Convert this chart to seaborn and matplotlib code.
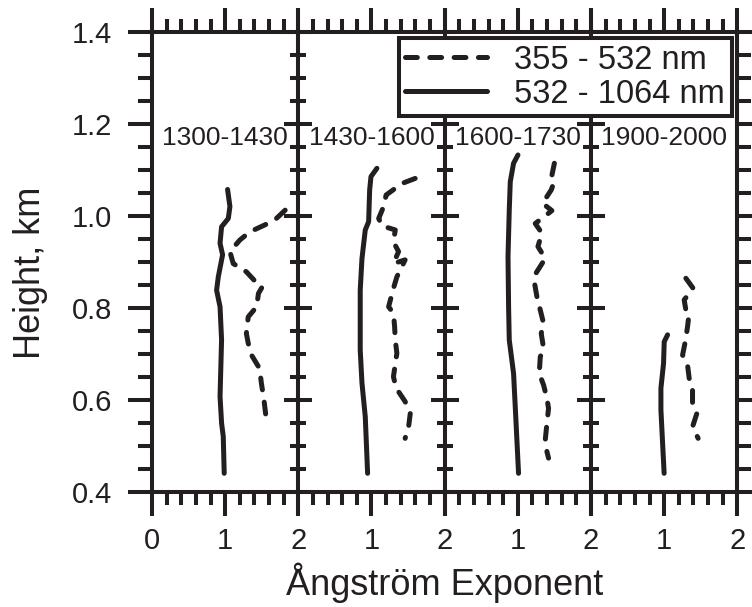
import numpy as np
import pandas as pd
import matplotlib
matplotlib.use("Agg")
import matplotlib.pyplot as plt
import seaborn as sns
from matplotlib.ticker import MultipleLocator, FixedLocator, FixedFormatter

# ---------------- data ----------------
panel_labels = ["1300-1430", "1430-1600", "1600-1730", "1900-2000"]
legend_labels = ["355 - 532 nm", "532 - 1064 nm"]
x_title = "Ångström Exponent"
y_title = "Height, km"
y_tick_values = [0.4, 0.6, 0.8, 1.0, 1.2, 1.4]
y_tick_labels = ["0.4", "0.6", "0.8", "1.0", "1.2", "1.4"]
x_tick_values = [0, 1, 2]
x_tick_labels_first = ["0", "1", "2"]
x_tick_labels_other = ["", "1", "2"]

# panel 1 (1300-1430)
p1_solid_x = [1.033, 1.065, 1.043, 0.951, 0.93, 0.965, 0.906, 0.883, 0.93, 0.951, 0.93, 0.951, 0.974, 0.987]
p1_solid_y = [1.057, 1.020, 0.994, 0.976, 0.94, 0.915, 0.867, 0.838, 0.802, 0.730, 0.607, 0.549, 0.520, 0.440]
p1_dash_x = [1.82, 1.70, 1.543, 1.338, 1.20, 1.065, 1.11, 1.29, 1.43, 1.51, 1.455, 1.43, 1.315, 1.29,
             1.315, 1.36, 1.47, 1.495, 1.53, 1.56]
p1_dash_y = [1.012, 0.994, 0.98, 0.965, 0.947, 0.922, 0.896, 0.878, 0.854, 0.846, 0.831, 0.802, 0.780,
             0.744, 0.723, 0.697, 0.668, 0.636, 0.60, 0.560]

# panel 2 (1430-1600)
p2_solid_x = [1.074, 0.993, 0.975, 0.961, 0.915, 0.87, 0.846, 0.846, 0.87, 0.915, 0.947]
p2_solid_y = [1.103, 1.085, 1.056, 0.987, 0.969, 0.907, 0.838, 0.708, 0.636, 0.563, 0.440]
p2_dash_x = [1.597, 1.416, 1.20, 1.166, 1.098, 1.143, 1.325, 1.30, 1.37, 1.30, 1.46, 1.347, 1.30,
             1.234, 1.30, 1.316, 1.325, 1.347, 1.30, 1.338, 1.46, 1.53, 1.507, 1.46]
p2_dash_y = [1.081, 1.070, 1.045, 1.020, 0.994, 0.978, 0.969, 0.943, 0.922, 0.896, 0.904, 0.867, 0.842,
             0.802, 0.788, 0.759, 0.730, 0.701, 0.650, 0.625, 0.596, 0.570, 0.541, 0.516]

# panel 3 (1600-1730)
p3_solid_x = [1.002, 0.942, 0.897, 0.883, 0.866, 0.874, 0.883, 0.942, 0.965, 1.01]
p3_solid_y = [1.132, 1.114, 1.074, 1.012, 0.911, 0.802, 0.730, 0.657, 0.585, 0.440]
p3_dash_x = [1.50, 1.457, 1.488, 1.457, 1.338, 1.466, 1.238, 1.33, 1.275, 1.375, 1.248, 1.229, 1.261,
             1.307, 1.352, 1.32, 1.352, 1.307, 1.293, 1.352, 1.398, 1.42, 1.398, 1.375, 1.398, 1.42]
p3_dash_y = [1.114, 1.081, 1.070, 1.056, 1.027, 1.011, 0.983, 0.962, 0.933, 0.907, 0.875, 0.853, 0.824,
             0.795, 0.766, 0.744, 0.712, 0.693, 0.657, 0.632, 0.603, 0.581, 0.549, 0.512, 0.487, 0.473]

# panel 4 (1900-2000)
p4_solid_x = [1.047, 1.001, 0.992, 0.956, 0.956, 0.979, 1.0]
p4_solid_y = [0.741, 0.726, 0.679, 0.625, 0.578, 0.505, 0.440]
p4_dash_x = [1.297, 1.397, 1.274, 1.297, 1.342, 1.32, 1.297, 1.252, 1.32, 1.342, 1.388, 1.388, 1.447,
             1.388, 1.465]
p4_dash_y = [0.864, 0.842, 0.817, 0.795, 0.788, 0.759, 0.733, 0.697, 0.675, 0.647, 0.621, 0.592, 0.570,
             0.541, 0.516]

solid_x = [p1_solid_x, p2_solid_x, p3_solid_x, p4_solid_x]
solid_y = [p1_solid_y, p2_solid_y, p3_solid_y, p4_solid_y]
dash_x = [p1_dash_x, p2_dash_x, p3_dash_x, p4_dash_x]
dash_y = [p1_dash_y, p2_dash_y, p3_dash_y, p4_dash_y]

# ---------------- style ----------------
sns.set_theme(style="white")
plt.rcParams["font.family"] = ["Liberation Sans", "DejaVu Sans"]
plt.rcParams["lines.scale_dashes"] = False
INK = "#231f20"
SPW = 2.9
LW = 3.6
PT = 72 / 100.0  # points per pixel at dpi 100

fig, axes = plt.subplots(1, 4, figsize=(7.52, 6.07), dpi=100, sharey=True)
fig.subplots_adjust(left=152 / 752, right=737.3 / 752, bottom=1 - 491.7 / 607,
                    top=1 - 31.7 / 607, wspace=0)

dash_pattern = (0, (8.5, 9.0))

for i, ax in enumerate(axes):
    ax.set_facecolor("white")
    dfs = pd.DataFrame({"x": solid_x[i], "y": solid_y[i]})
    dfd = pd.DataFrame({"x": dash_x[i], "y": dash_y[i]})
    sns.lineplot(data=dfd, x="x", y="y", ax=ax, sort=False, estimator=None, color=INK,
                 linewidth=LW, linestyle=dash_pattern, dash_capstyle="round",
                 dash_joinstyle="round", solid_capstyle="round",
                 label=legend_labels[0] if i == 3 else None)
    sns.lineplot(data=dfs, x="x", y="y", ax=ax, sort=False, estimator=None, color=INK,
                 linewidth=LW, solid_capstyle="round", solid_joinstyle="round",
                 label=legend_labels[1] if i == 3 else None)
    ax.set_xlim(0, 2)
    ax.set_ylim(0.4, 1.4)
    ax.set_xlabel("")
    ax.set_ylabel("")
    for s in ax.spines.values():
        s.set_visible(True)
        s.set_color(INK)
        s.set_linewidth(SPW)

    ax.xaxis.set_major_locator(FixedLocator(x_tick_values))
    ax.xaxis.set_major_formatter(FixedFormatter(x_tick_labels_first if i == 0 else x_tick_labels_other))
    ax.xaxis.set_minor_locator(MultipleLocator(0.2))
    ax.yaxis.set_major_locator(FixedLocator(y_tick_values))
    ax.yaxis.set_major_formatter(FixedFormatter(y_tick_labels))
    ax.yaxis.set_minor_locator(MultipleLocator(0.05))

    ax.tick_params(axis="x", which="major", direction="out", length=24 * PT, width=SPW,
                   color=INK, top=True, bottom=True, labelsize=21, pad=8, labelcolor=INK)
    ax.tick_params(axis="x", which="minor", direction="out", length=13 * PT, width=SPW,
                   color=INK, top=True, bottom=True)
    if i == 0:
        ax.tick_params(axis="y", which="major", direction="out", length=24 * PT, width=SPW,
                       color=INK, left=True, right=False, labelsize=21, pad=11.5, labelcolor=INK)
        ax.tick_params(axis="y", which="minor", direction="out", length=14 * PT, width=SPW,
                       color=INK, left=True, right=False)
    else:
        ax.tick_params(axis="y", which="major", direction="inout", length=28 * PT, width=SPW,
                       color=INK, left=True, right=False, labelleft=False)
        ax.tick_params(axis="y", which="minor", direction="inout", length=16 * PT, width=SPW,
                       color=INK, left=True, right=False)

    ax.text(1.0, 1.17, panel_labels[i], ha="center", va="center", fontsize=19, color=INK)

# outward ticks on the right-most spine
sec = axes[3].secondary_yaxis("right")
sec.yaxis.set_major_locator(FixedLocator(y_tick_values))
sec.yaxis.set_minor_locator(MultipleLocator(0.05))
sec.tick_params(axis="y", which="major", direction="out", length=24 * PT, width=SPW,
                color=INK, labelright=False)
sec.tick_params(axis="y", which="minor", direction="out", length=14 * PT, width=SPW, color=INK)
sec.spines["right"].set_linewidth(SPW)
sec.spines["right"].set_color(INK)

handles, labels = axes[3].get_legend_handles_labels()
for ax in axes[:3]:
    lg = ax.get_legend()
    if lg is not None:
        lg.remove()
leg = axes[3].legend(handles, labels, loc="upper right",
                     bbox_to_anchor=(731.7 / 752, 1 - 38 / 607), bbox_transform=fig.transFigure,
                     fontsize=23.5, frameon=True, fancybox=False, framealpha=1, edgecolor=INK,
                     handlelength=2.5, handletextpad=0.85, labelspacing=0.1, borderpad=0.2,
                     borderaxespad=0)
leg.get_frame().set_linewidth(SPW)
for t in leg.get_texts():
    t.set_color(INK)

fig.text(444.6 / 752, 1 - 595 / 607, x_title, ha="center", va="baseline", fontsize=26, color=INK)
fig.text(31 / 752, 1 - 273 / 607, y_title, ha="center", va="center", rotation=90,
         fontsize=26, color=INK)

fig.savefig("out.png", dpi=100, facecolor="white")
